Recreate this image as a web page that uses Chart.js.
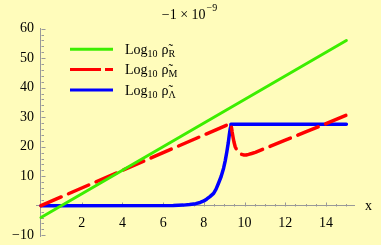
<!DOCTYPE html>
<html>
<head>
<meta charset="utf-8">
<script src="https://cdn.jsdelivr.net/npm/chart.js@4/dist/chart.umd.min.js"></script>
<style>
  html, body { margin: 0; padding: 0; background: #fffcbb; }
  #wrap { width: 381px; height: 245px; position: relative; }
</style>
</head>
<body>
<div id="wrap"><canvas id="c" width="381" height="245"></canvas></div>
<script>
// ---- data ----
const greenX = [0, 15];
const greenY = [-4, 56];

const redX = [0, 9.25, 9.33, 9.36, 9.39, 9.43, 9.48, 9.54, 9.62, 9.71, 9.82, 9.95, 10.08, 10.2, 10.35, 10.53, 11, 12, 13, 14, 15];
const redY = [0, 27.7, 27.6, 26.4, 25.0, 23.4, 21.6, 20.0, 18.9, 18.1, 17.5, 17.2, 17.2, 17.4, 17.7, 18.1, 19.4, 22.2, 25.0, 27.8, 30.7];

const blueX = [0, 6.5, 7.0, 7.3, 7.6, 7.82, 8.0, 8.15, 8.3, 8.48, 8.6, 8.72, 8.85, 8.97, 9.05, 9.13, 9.2, 9.25, 9.3, 9.33, 15];
const blueY = [0, 0.05, 0.2, 0.4, 0.7, 1.1, 1.6, 2.3, 3.1, 4.2, 5.6, 7.6, 9.9, 12.7, 15.2, 18.3, 21.3, 24.0, 26.3, 27.6, 27.6];

const xTickValues = [2, 4, 6, 8, 10, 12, 14];
const yTickValues = [-10, 10, 20, 30, 40, 50, 60];
const seriesSubscripts = ['R', 'M', 'Λ'];
const seriesNames = ['Log10 ρ̃R', 'Log10 ρ̃M', 'Log10 ρ̃Λ'];
const titleMain = '−1 × 10';
const titleSup = '−9';
const xAxisLabel = 'x';

const pts = (xs, ys) => xs.map((x, i) => ({x: x, y: ys[i]}));
const SERIF = '"Liberation Serif", "Times New Roman", serif';

const decorPlugin = {
  id: 'decor',
  beforeDatasetsDraw(chart) {
    const ctx = chart.ctx;
    const xs = chart.scales.x, ys = chart.scales.y;
    const x0 = xs.getPixelForValue(0), y0 = ys.getPixelForValue(0);
    ctx.save();
    ctx.strokeStyle = '#999999';
    ctx.lineWidth = 1;
    for (let v = 0.5; v <= 15.01; v += 0.5) {
      const px = Math.round(xs.getPixelForValue(v)) + 0.5;
      const major = Math.abs(v / 2 - Math.round(v / 2)) < 1e-6;
      ctx.beginPath();
      ctx.moveTo(px, Math.round(y0) + 0.5);
      ctx.lineTo(px, Math.round(y0) + 0.5 - (major ? 4 : 2.5));
      ctx.stroke();
    }
    for (let v = -10; v <= 60.01; v += 2) {
      const py = Math.round(ys.getPixelForValue(v)) + 0.5;
      const major = v % 10 === 0;
      ctx.beginPath();
      ctx.moveTo(Math.round(x0) + 0.5, py);
      ctx.lineTo(Math.round(x0) + 0.5 + (major ? 4 : 2.5), py);
      ctx.stroke();
    }
    ctx.restore();
  },
  afterDraw(chart) {
    const ctx = chart.ctx;
    ctx.save();
    ctx.fillStyle = '#000';
    ctx.textBaseline = 'alphabetic';
    ctx.font = '14px ' + SERIF;
    const w1 = ctx.measureText(titleMain).width;
    ctx.font = '10px ' + SERIF;
    const w2 = ctx.measureText(titleSup).width;
    const tx = 189.5 - (w1 + w2 + 1) / 2;
    ctx.font = '14px ' + SERIF;
    ctx.fillText(titleMain, tx, 19.3);
    ctx.font = '10px ' + SERIF;
    ctx.fillText(titleSup, tx + w1 + 1, 10.5);
    ctx.font = '14px ' + SERIF;
    ctx.fillText(xAxisLabel, 365, 209.5);
    const rows = [49.3, 69.5, 90];
    chart.data.datasets.forEach((ds, i) => {
      const ly = rows[i];
      ctx.save();
      ctx.strokeStyle = ds.borderColor;
      ctx.lineWidth = 3;
      ctx.lineCap = 'butt';
      if (ds.borderDash && ds.borderDash.length) ctx.setLineDash([31, 4]);
      ctx.beginPath();
      ctx.moveTo(70, ly);
      ctx.lineTo(113, ly);
      ctx.stroke();
      ctx.restore();
      let x = 125;
      ctx.font = '14px ' + SERIF;
      ctx.fillText('Log', x, ly + 4.8);
      x += ctx.measureText('Log').width;
      ctx.font = '10px ' + SERIF;
      ctx.fillText('10', x, ly + 7.8);
      x += ctx.measureText('10').width + 4;
      ctx.font = '14px ' + SERIF;
      ctx.fillText('ρ\u0303', x, ly + 4.8);
      x += ctx.measureText('ρ').width;
      ctx.font = '10px ' + SERIF;
      ctx.fillText(seriesSubscripts[i], x, ly + 7.8);
    });
    ctx.restore();
  }
};

const bgPlugin = {
  id: 'bg',
  beforeDraw(chart) {
    const ctx = chart.ctx;
    ctx.save();
    ctx.fillStyle = '#fffcbb';
    ctx.fillRect(0, 0, chart.width, chart.height);
    ctx.restore();
  }
};

new Chart(document.getElementById('c'), {
  type: 'line',
  data: {
    datasets: [
      { label: seriesNames[0], data: pts(greenX, greenY), borderColor: '#3cee00', borderWidth: 3, pointRadius: 0, tension: 0, borderCapStyle: 'round' },
      { label: seriesNames[1], data: pts(redX, redY), borderColor: '#ff0000', borderWidth: 3.5, pointRadius: 0, tension: 0, borderDash: [22, 8], borderCapStyle: 'round', borderJoinStyle: 'round' },
      { label: seriesNames[2], data: pts(blueX, blueY), borderColor: '#0000ff', borderWidth: 3.5, pointRadius: 0, tension: 0, borderCapStyle: 'round', borderJoinStyle: 'round' }
    ]
  },
  options: {
    responsive: false,
    animation: false,
    devicePixelRatio: 1,
    layout: { padding: { left: 36.9, right: 26.5, top: 28.1, bottom: 8.9 } },
    plugins: { legend: { display: false }, tooltip: { enabled: false }, title: { display: false } },
    scales: {
      x: {
        type: 'linear',
        position: { y: 0 },
        min: -0.2, max: 15.4,
        afterBuildTicks: (s) => { s.ticks = xTickValues.map(v => ({value: v})); },
        grid: { display: false, drawTicks: false },
        border: { display: true, color: '#999999', width: 1 },
        ticks: { padding: 9, color: '#000', font: { family: SERIF, size: 14 }, maxRotation: 0, autoSkip: false,
                 callback: (v) => (v < 0 ? '−' : '') + Math.abs(v) }
      },
      y: {
        type: 'linear',
        position: { x: 0 },
        min: -10.3, max: 60.2,
        afterBuildTicks: (s) => { s.ticks = yTickValues.map(v => ({value: v})); },
        grid: { display: false, drawTicks: false },
        border: { display: true, color: '#999999', width: 1 },
        ticks: { padding: 0, color: '#000', font: { family: SERIF, size: 14 }, autoSkip: false,
                 callback: (v) => (v < 0 ? '−' : '') + Math.abs(v) + '\u2002' }
      }
    }
  },
  plugins: [bgPlugin, decorPlugin]
});
</script>
</body>
</html>
